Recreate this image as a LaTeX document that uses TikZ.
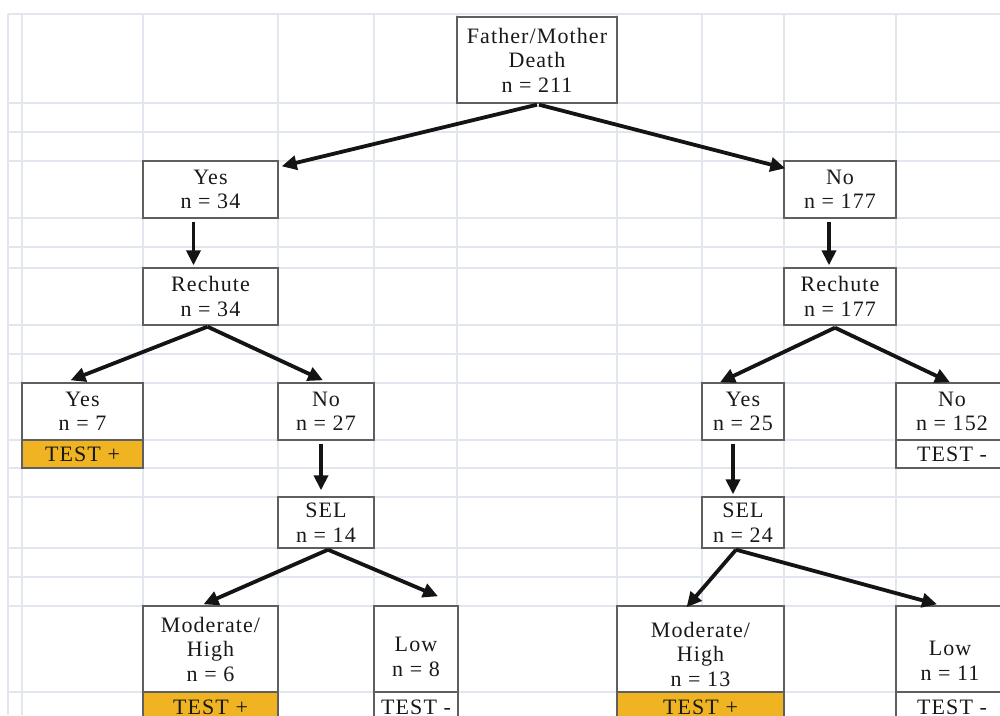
\documentclass[tikz,border=0pt]{standalone}
\usepackage{fontspec}
\setmainfont{Liberation Serif}
\newfontfamily\tfont[LetterSpace=5]{Liberation Serif}
\newcommand\boxfont{\tfont\fontsize{22}{24.5}\selectfont}
\usetikzlibrary{arrows.meta,calc}
\definecolor{gridc}{RGB}{226,230,238}
\definecolor{boxc}{RGB}{95,95,95}
\definecolor{txtc}{RGB}{25,25,25}
\definecolor{testorange}{RGB}{240,180,34}
\begin{document}
\begin{tikzpicture}[x=1pt,y=-1pt,
  bx/.style={draw=boxc,line width=1.4pt,fill=white,inner sep=0pt,align=center,text=txtc,font=\boxfont},
  plus/.style={bx,fill=testorange},
  txt/.style={inner sep=0pt,align=center,text=txtc,font=\boxfont},
  arr/.style={line width=3.8pt,draw=black!92,-{Triangle[length=15pt,width=14pt]}}]
\useasboundingbox (0,0) rectangle (1000,715);
\clip (0,0) rectangle (1000,715);
\fill[white] (0,0) rectangle (1000,715);
% grid
\foreach \y in {14,103,132,161,218,247,268,325,354,383,440,468,497,548,577,606,692}
  \draw[gridc,line width=1.3pt] (8,\y) -- (1000,\y);
\foreach \x in {8,22,143,278,374,457,617,702,784,896}
  \draw[gridc,line width=1.3pt] (\x,14) -- (\x,715);
% boxes
\node[bx,minimum width=160,minimum height=86] (father) at (537,60) {Father/Mother\\Death\\n = 211};
\node[bx,minimum width=135,minimum height=57] (yes34) at (210.5,189.5) {Yes\\n = 34};
\node[bx,minimum width=112,minimum height=57] (no177) at (840,189.5) {No\\n = 177};
\node[bx,minimum width=135,minimum height=57] (rech34) at (210.5,296.5) {Rechute\\n = 34};
\node[bx,minimum width=112,minimum height=57] (rech177) at (840,296.5) {Rechute\\n = 177};
\node[bx,minimum width=121,minimum height=57] (yes7) at (82.5,411.5) {Yes\\n = 7};
\node[plus,minimum width=121,minimum height=28] (t7) at (82.5,454) {TEST +};
\node[bx,minimum width=96,minimum height=57] (no27) at (326,411.5) {No\\n = 27};
\node[bx,minimum width=96,minimum height=51] (sel14) at (326,522.5) {SEL\\n = 14};
\node[bx,minimum width=135,minimum height=86] (mh6) at (210.5,649) {Moderate/\\High\\n = 6};
\node[plus,minimum width=135,minimum height=30] (t6) at (210.5,707) {TEST +};
\node[bx,minimum width=84,minimum height=86] (low8) at (416,649) {};
\node[txt] (low8t) at (416,657) {Low\\n = 8};
\node[bx,minimum width=84,minimum height=30] (t8) at (416,707) {TEST -};
\node[bx,minimum width=82,minimum height=57] (yes25) at (743,411.5) {Yes\\n = 25};
\node[bx,minimum width=112,minimum height=57] (no152) at (952,411.5) {No\\n = 152};
\node[bx,minimum width=112,minimum height=28] (t152) at (952,454) {TEST -};
\node[bx,minimum width=82,minimum height=51] (sel24) at (743,522.5) {SEL\\n = 24};
\node[bx,minimum width=167,minimum height=86] (mh13) at (700.5,649) {};
\node[txt] (mh13t) at (700.5,654) {Moderate/\\High\\n = 13};
\node[plus,minimum width=167,minimum height=30] (t13) at (700.5,707) {TEST +};
\node[bx,minimum width=112,minimum height=86] (low11) at (952,649) {};
\node[txt] (low11t) at (950,661) {Low\\n = 11};
\node[bx,minimum width=112,minimum height=30] (t11) at (952,707) {TEST -};
% connectors
\draw[arr] ($(father.south)+(0,1)$) -- ($(yes34.north east)+(3,6)$);
\draw[arr] ($(father.south)+(2,1)$) -- ($(no177.north west)+(2,8)$);
\draw[arr] ($(yes34.south)+(-17,3)$) -- ($(rech34.north)+(-17,-2)$);
\draw[arr] ($(no177.south)+(-11,3)$) -- ($(rech177.north)+(-11,-2)$);
\draw[arr] ($(rech34.south)+(-3,1)$) -- ($(yes7.north)+(-12,-2)$);
\draw[arr] ($(rech34.south)+(-3,1)$) -- ($(no27.north)+(-3,-2)$);
\draw[arr] ($(rech177.south)+(-5,2)$) -- ($(yes25.north)+(-23,0)$);
\draw[arr] ($(rech177.south)+(-5,2)$) -- ($(no152.north)+(-2,0)$);
\draw[arr] ($(no27.south)+(-5,3)$) -- ($(sel14.north)+(-5,-6)$);
\draw[arr] ($(yes25.south)+(-10,3)$) -- ($(sel24.north)+(-10,-2)$);
\draw[arr] ($(sel14.south)+(2,1)$) -- ($(mh6.north)+(-7,-1)$);
\draw[arr] ($(sel14.south)+(2,1)$) -- ($(low8.north)+(22,-9)$);
\draw[arr] ($(sel24.south)+(-7,1)$) -- ($(mh13.north)+(-14,2)$);
\draw[arr] ($(sel24.south)+(-7,1)$) -- ($(low11.north)+(-15,-1)$);
\end{tikzpicture}
\end{document}
